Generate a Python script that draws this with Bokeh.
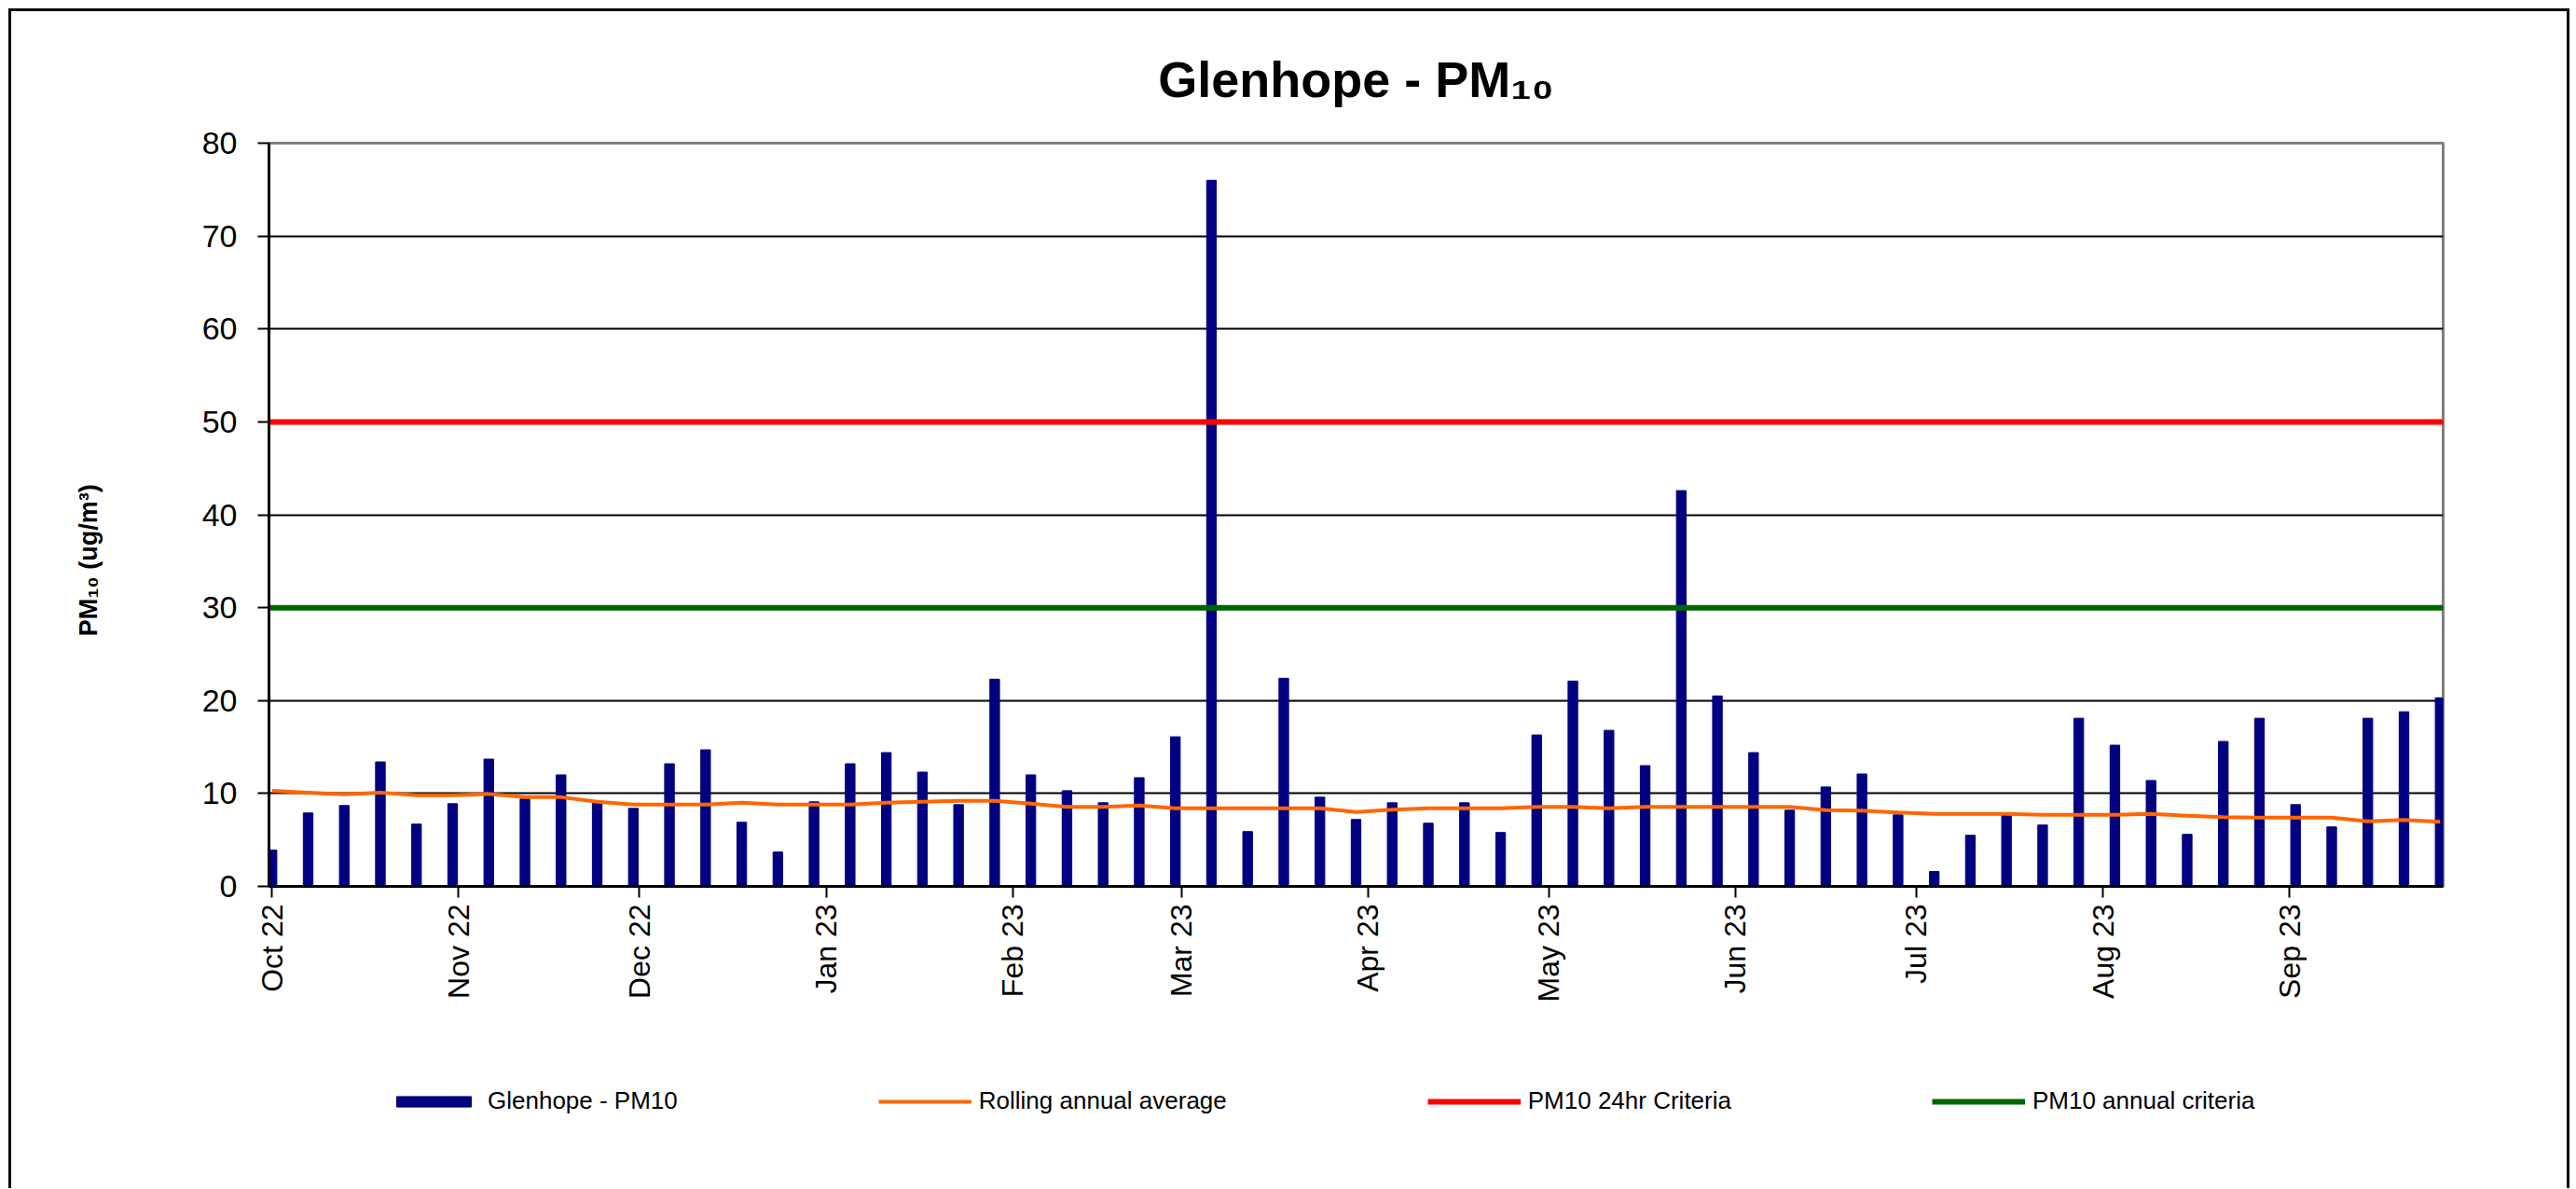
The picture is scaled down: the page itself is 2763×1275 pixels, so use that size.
import math
import pandas as pd
from bokeh.plotting import figure
from bokeh.layouts import column
from bokeh.models import (Range1d, FixedTicker, MonthsTicker, DatetimeTickFormatter,
                          Legend, LegendItem)
from bokeh.embed import file_html
from bokeh.resources import INLINE

# ---------------- data ----------------
start_date = "2022-10-01"
sample_interval_days = 6

pm10 = [3.9, 7.9, 8.7, 13.4, 6.7, 8.9, 13.7, 9.4, 12.0, 9.0,
        8.4, 13.2, 14.7, 6.9, 3.7, 9.1, 13.2, 14.4, 12.3, 8.8,
        22.3, 12.0, 10.3, 9.0, 11.7, 16.1, 76.0, 5.9, 22.4, 9.6,
        7.2, 9.0, 6.8, 9.0, 5.8, 16.3, 22.1, 16.8, 13.0, 42.6,
        20.5, 14.4, 8.2, 10.7, 12.1, 7.7, 1.6, 5.5, 7.8, 6.6,
        18.1, 15.2, 11.4, 5.6, 15.6, 18.1, 8.8, 6.4, 18.1, 18.8,
        20.3]

rolling_avg = [10.3, 10.1, 9.9, 10.1, 9.8, 9.8, 9.95, 9.6, 9.6, 9.1,
               8.8, 8.8, 8.8, 9.0, 8.8, 8.8, 8.8, 9.0, 9.1, 9.2,
               9.2, 8.9, 8.55, 8.55, 8.7, 8.4, 8.4, 8.4, 8.4, 8.4,
               8.0, 8.25, 8.4, 8.4, 8.4, 8.55, 8.55, 8.4, 8.55, 8.55,
               8.55, 8.55, 8.55, 8.2, 8.15, 7.95, 7.8, 7.8, 7.8, 7.7,
               7.7, 7.7, 7.8, 7.6, 7.45, 7.4, 7.4, 7.4, 7.0, 7.15,
               6.95]

criteria_24hr = 50
criteria_annual = 30
y_ticks = [0, 10, 20, 30, 40, 50, 60, 70, 80]
y_grid = [10, 20, 30, 40, 50, 60, 70]

title_text = "Glenhope - PM\u2081\u2080"
y_label = "PM\u2081\u2080 (ug/m\u00b3)"
series_labels = ["Glenhope - PM10", "Rolling annual average",
                 "PM10 24hr Criteria", "PM10 annual criteria"]

BAR_COLOR = "#000080"
AVG_COLOR = "#ff6600"
C24_COLOR = "#ff0000"
CANN_COLOR = "#006600"

# ---------------- derived ----------------
dates = pd.date_range(start_date, periods=len(pm10), freq=f"{sample_interval_days}D")
dates_py = [d.to_pydatetime() for d in dates]
half_day = pd.Timedelta(hours=12)
x_start = (dates[0] - half_day).to_pydatetime()
x_end = (dates[-1] + half_day).to_pydatetime()

FONT = "Liberation Sans"
W = 2741
H_MAIN = 1090
H_LEG = 172
MB_LEFT, MB_RIGHT = 276, 133


def draw_series(fig, visible=True):
    bar_w = 1.6 * 24 * 3600 * 1000
    rb = fig.vbar(x=dates_py, top=pm10, bottom=0, width=bar_w,
                  fill_color=BAR_COLOR, line_color=BAR_COLOR, visible=visible)
    ra = fig.line(x=dates_py, y=rolling_avg, line_color=AVG_COLOR, line_width=4,
                  visible=visible)
    r24 = fig.line(x=[x_start, x_end], y=[criteria_24hr, criteria_24hr],
                   line_color=C24_COLOR, line_width=6, visible=visible)
    rann = fig.line(x=[x_start, x_end], y=[criteria_annual, criteria_annual],
                    line_color=CANN_COLOR, line_width=6, visible=visible)
    return [rb, ra, r24, rann]


# ---------------- main chart ----------------
p = figure(width=W, height=H_MAIN, x_axis_type="datetime",
           x_range=Range1d(start=x_start, end=x_end),
           y_range=Range1d(start=0, end=80),
           output_backend="svg", toolbar_location=None,
           min_border_left=MB_LEFT, min_border_right=MB_RIGHT,
           min_border_top=141, min_border_bottom=H_MAIN - 938)
p.background_fill_color = "white"
p.border_fill_color = "white"
p.outline_line_color = "#808080"
p.outline_line_width = 3

# title
p.title.text = title_text
p.title.align = "center"
p.title.text_font = FONT
p.title.text_font_style = "bold"
p.title.text_font_size = "54px"
p.title.text_color = "black"
p.title.standoff = 78

# grid
p.xgrid.visible = False
p.ygrid.ticker = FixedTicker(ticks=y_grid)
p.ygrid.grid_line_color = "black"
p.ygrid.grid_line_width = 2

# y axis
p.yaxis.ticker = FixedTicker(ticks=y_ticks)
p.yaxis.axis_line_width = 3
p.yaxis.axis_line_color = "black"
p.yaxis.major_tick_line_width = 2
p.yaxis.major_tick_out = 12
p.yaxis.major_tick_in = 0
p.yaxis.minor_tick_line_color = None
p.yaxis.major_label_text_font = FONT
p.yaxis.major_label_text_font_size = "34px"
p.yaxis.major_label_text_color = "black"
p.yaxis.major_label_standoff = 22
# trailing no-break spaces keep the label's visible part below the axis centre
p.yaxis.axis_label = y_label + "\u00a0" * 13
p.yaxis.axis_label_text_font = FONT
p.yaxis.axis_label_text_font_style = "bold"
p.yaxis.axis_label_text_font_size = "27px"
p.yaxis.axis_label_text_color = "black"
p.yaxis.axis_label_standoff = 104

# x axis
p.xaxis.ticker = MonthsTicker(months=list(range(12)))
fmt = "%b %y"
p.xaxis.formatter = DatetimeTickFormatter(months=fmt, days=fmt, years=fmt, hours=fmt)
p.xaxis.major_label_orientation = math.pi / 2
p.xaxis.axis_line_width = 3
p.xaxis.axis_line_color = "black"
p.xaxis.major_tick_line_width = 2
p.xaxis.major_tick_out = 12
p.xaxis.major_tick_in = 0
p.xaxis.minor_tick_line_color = None
p.xaxis.major_label_text_font = FONT
p.xaxis.major_label_text_font_size = "32px"
p.xaxis.major_label_text_color = "black"
p.xaxis.major_label_standoff = 7

draw_series(p)

# ---------------- legend strip ----------------
# the same series as hidden renderers, so the legend keys come from real glyphs
lf = figure(width=W, height=H_LEG, x_axis_type="datetime",
            x_range=p.x_range, y_range=Range1d(-2, -1),
            output_backend="svg", toolbar_location=None,
            x_axis_location=None, y_axis_location=None,
            min_border_left=MB_LEFT, min_border_right=MB_RIGHT,
            min_border_top=0, min_border_bottom=0)
lf.grid.visible = False
lf.outline_line_color = None
lf.background_fill_color = "white"
lf.border_fill_color = "white"
keys = draw_series(lf, visible=False)

items = [LegendItem(label=lab, renderers=[rr])
         for lab, rr in zip(series_labels, keys)]
leg = Legend(items=items, location=(127, 78), orientation="horizontal",
             glyph_width=100, glyph_height=14, label_standoff=8,
             padding=0, margin=0, spacing=215,
             border_line_alpha=0, background_fill_alpha=0,
             label_text_font=FONT, label_text_font_size="26px",
             label_text_color="black")
lf.add_layout(leg)

layout = column(p, lf, spacing=0)
layout.margin = (9, 0, 0, 9)
layout.styles = {"border-left": "3px solid black", "border-top": "3px solid black",
                 "border-right": "3px solid black"}

open("out.html", "w").write(file_html(layout, INLINE))
